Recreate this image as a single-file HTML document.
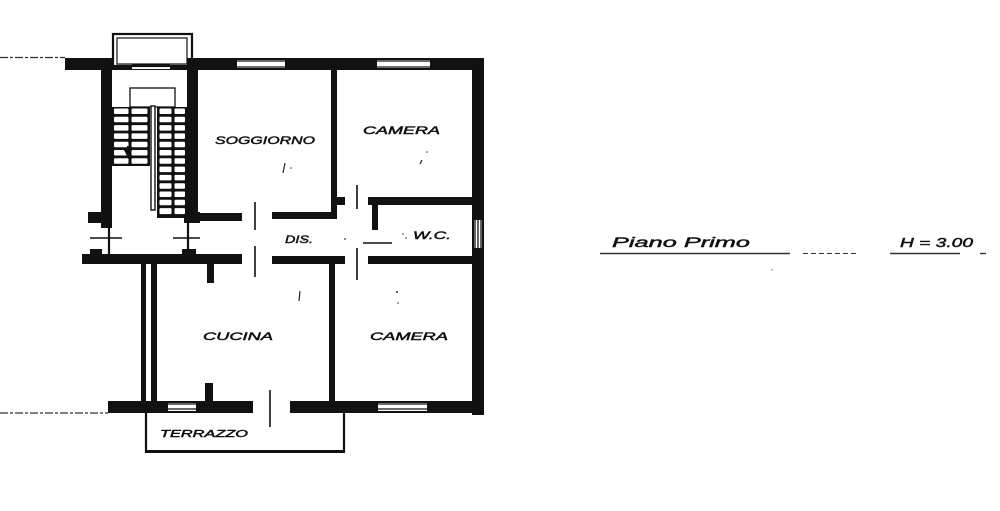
<!DOCTYPE html>
<html><head><meta charset="utf-8"><style>
html,body{margin:0;padding:0;background:#fff;}
svg{display:block;}
text{font-family:"Liberation Sans",sans-serif;font-style:italic;fill:#111;stroke:#111;stroke-width:0.45;}
</style></head><body>
<svg width="1000" height="511" viewBox="0 0 1000 511" xmlns="http://www.w3.org/2000/svg">
<rect width="1000" height="511" fill="#fff"/>
<g fill="#111" stroke="none">
<!-- top walls -->
<rect x="65" y="58" width="47" height="12"/>
<rect x="187" y="58" width="297" height="12"/>
<rect x="112" y="65" width="80" height="5"/>
<!-- right wall -->
<rect x="472" y="58" width="12" height="357"/>
<!-- bottom wall -->
<rect x="108" y="401" width="145" height="12"/>
<rect x="290" y="401" width="194" height="12"/>
<!-- stairwell walls -->
<rect x="101" y="58" width="11" height="170"/>
<rect x="88" y="212" width="24" height="11"/>
<rect x="187" y="58" width="11" height="164"/>
<rect x="187" y="213" width="55" height="8"/>
<rect x="184" y="212" width="16" height="11"/>
<!-- middle wall -->
<rect x="82" y="254" width="160" height="10"/>
<rect x="90" y="249" width="12" height="6"/>
<rect x="182" y="249" width="14" height="6"/>
<rect x="272" y="256" width="73" height="8"/>
<rect x="368" y="256" width="105" height="8"/>
<!-- soggiorno bottom / camera wall -->
<rect x="272" y="212" width="65" height="7"/>
<rect x="331" y="70" width="6" height="148"/>
<rect x="331" y="197" width="14" height="8"/>
<!-- WC -->
<rect x="368" y="197" width="105" height="8"/>
<rect x="372" y="197" width="6" height="33"/>
<!-- cucina -->
<rect x="141" y="264" width="5" height="137"/>
<rect x="151" y="264" width="6" height="137"/>
<rect x="207" y="264" width="7" height="19"/>
<rect x="205" y="383" width="8" height="18"/>
<rect x="329" y="264" width="6" height="137"/>
</g>
<!-- windows -->
<g fill="#fff" stroke="#111" stroke-width="1.3">
<rect x="237" y="60" width="48" height="8" stroke="none"/>
<line x1="237" y1="61" x2="285" y2="61"/><line x1="237" y1="67" x2="285" y2="67"/>
<rect x="377" y="60" width="53" height="8" stroke="none"/>
<line x1="377" y1="61" x2="430" y2="61"/><line x1="377" y1="67" x2="430" y2="67"/>
<rect x="132" y="65" width="38" height="4" stroke="none"/>
<line x1="132" y1="65" x2="170" y2="65"/>
<rect x="168" y="403" width="28" height="8" stroke="none"/>
<line x1="168" y1="404" x2="196" y2="404"/><line x1="168" y1="409" x2="196" y2="409"/>
<rect x="378" y="403" width="49" height="8" stroke="none"/>
<line x1="378" y1="404" x2="427" y2="404"/><line x1="378" y1="409" x2="427" y2="409"/>
<rect x="474" y="220" width="8" height="28" stroke="none"/>
<line x1="475" y1="220" x2="475" y2="248"/><line x1="481" y1="220" x2="481" y2="248"/>
<line x1="478" y1="220" x2="478" y2="248"/>
</g>
<!-- stair top box -->
<rect x="113" y="34" width="79" height="32" fill="none" stroke="#111" stroke-width="2.2"/>
<rect x="117" y="38" width="70" height="26" fill="none" stroke="#111" stroke-width="1.2"/>
<!-- stairs -->
<rect x="130" y="88" width="45" height="19" fill="none" stroke="#111" stroke-width="1.3"/>
<rect x="112" y="107" width="38" height="59" fill="#111"/>
<rect x="157" y="107" width="30" height="111" fill="#111"/>
<g fill="#fff">
<rect x="114" y="108.5" width="14.5" height="5.5" rx="1"/><rect x="131.5" y="108.5" width="16" height="5.5" rx="1"/>
<rect x="114" y="116.8" width="14.5" height="5.5" rx="1"/><rect x="131.5" y="116.8" width="16" height="5.5" rx="1"/>
<rect x="114" y="125.1" width="14.5" height="5.5" rx="1"/><rect x="131.5" y="125.1" width="16" height="5.5" rx="1"/>
<rect x="114" y="133.4" width="14.5" height="5.5" rx="1"/><rect x="131.5" y="133.4" width="16" height="5.5" rx="1"/>
<rect x="114" y="141.7" width="14.5" height="5.5" rx="1"/><rect x="131.5" y="141.7" width="16" height="5.5" rx="1"/>
<rect x="114" y="150" width="14.5" height="5.5" rx="1"/><rect x="131.5" y="150" width="16" height="5.5" rx="1"/>
<rect x="114" y="158.3" width="14.5" height="5.5" rx="1"/><rect x="131.5" y="158.3" width="16" height="5.5" rx="1"/>
</g>
<g fill="#fff">
<rect x="159.5" y="108.5" width="12" height="5.5" rx="1"/><rect x="174.5" y="108.5" width="10.5" height="5.5" rx="1"/>
<rect x="159.5" y="116.8" width="12" height="5.5" rx="1"/><rect x="174.5" y="116.8" width="10.5" height="5.5" rx="1"/>
<rect x="159.5" y="125.1" width="12" height="5.5" rx="1"/><rect x="174.5" y="125.1" width="10.5" height="5.5" rx="1"/>
<rect x="159.5" y="133.4" width="12" height="5.5" rx="1"/><rect x="174.5" y="133.4" width="10.5" height="5.5" rx="1"/>
<rect x="159.5" y="141.7" width="12" height="5.5" rx="1"/><rect x="174.5" y="141.7" width="10.5" height="5.5" rx="1"/>
<rect x="159.5" y="150" width="12" height="5.5" rx="1"/><rect x="174.5" y="150" width="10.5" height="5.5" rx="1"/>
<rect x="159.5" y="158.3" width="12" height="5.5" rx="1"/><rect x="174.5" y="158.3" width="10.5" height="5.5" rx="1"/>
<rect x="159.5" y="166.6" width="12" height="5.5" rx="1"/><rect x="174.5" y="166.6" width="10.5" height="5.5" rx="1"/>
<rect x="159.5" y="174.9" width="12" height="5.5" rx="1"/><rect x="174.5" y="174.9" width="10.5" height="5.5" rx="1"/>
<rect x="159.5" y="183.2" width="12" height="5.5" rx="1"/><rect x="174.5" y="183.2" width="10.5" height="5.5" rx="1"/>
<rect x="159.5" y="191.5" width="12" height="5.5" rx="1"/><rect x="174.5" y="191.5" width="10.5" height="5.5" rx="1"/>
<rect x="159.5" y="199.8" width="12" height="5.5" rx="1"/><rect x="174.5" y="199.8" width="10.5" height="5.5" rx="1"/>
<rect x="159.5" y="208.1" width="12" height="6" rx="1"/><rect x="174.5" y="208.1" width="10.5" height="6" rx="1"/>
</g>
<rect x="151" y="106" width="4" height="104" fill="#fff" stroke="#111" stroke-width="1.4"/>
<path d="M124,150 L132,150 L128,158 Z" fill="#111"/>
<line x1="128" y1="146" x2="128" y2="151" stroke="#111" stroke-width="2"/>
<!-- door swing marks -->
<g stroke="#111" fill="none">
<line x1="90" y1="238" x2="122" y2="238" stroke-width="1.5"/>
<line x1="109" y1="223" x2="109" y2="254" stroke-width="2.2"/>
<line x1="173" y1="238" x2="200" y2="238" stroke-width="1.5"/>
<line x1="188" y1="222" x2="188" y2="254" stroke-width="2.2"/>
<line x1="255" y1="202" x2="255" y2="230" stroke-width="1.6"/>
<line x1="255" y1="246" x2="255" y2="277" stroke-width="1.6"/>
<line x1="357" y1="185" x2="357" y2="209" stroke-width="1.6"/>
<line x1="357" y1="248" x2="357" y2="280" stroke-width="1.6"/>
<line x1="363" y1="243" x2="392" y2="243" stroke-width="1.6"/>
<line x1="270" y1="390" x2="270" y2="427" stroke-width="1.6"/>
</g>
<!-- dashed lines outside -->
<g stroke="#333" stroke-width="1.2" fill="none">
<line x1="0" y1="57.5" x2="65" y2="57.5" stroke-dasharray="8 2 3 2"/>
<line x1="0" y1="413" x2="108" y2="413" stroke-dasharray="8 2 3 2"/>
</g>
<!-- terrazzo -->
<g stroke="#111" fill="none">
<line x1="146" y1="413" x2="146" y2="453" stroke-width="2.2"/>
<line x1="344" y1="413" x2="344" y2="453" stroke-width="2.2"/>
<line x1="145" y1="451.5" x2="345" y2="451.5" stroke-width="3"/>
</g>
<!-- small marks -->
<g stroke="#222" stroke-width="1.2">
<line x1="285" y1="163" x2="283" y2="173"/>
<line x1="300" y1="291" x2="299" y2="301"/>
<line x1="422" y1="160" x2="420" y2="164"/>
</g>
<g fill="#333">
<circle cx="304" cy="240" r="0.9"/><circle cx="345" cy="239" r="0.9"/>
<circle cx="403" cy="234" r="0.8"/><circle cx="406" cy="238" r="0.8"/>
<circle cx="397" cy="292" r="1"/><circle cx="398" cy="303" r="0.8"/>
<circle cx="427" cy="152" r="0.8"/><circle cx="291" cy="168" r="0.8"/>
</g>
<!-- labels -->
<text x="215" y="144" font-size="11" textLength="100" lengthAdjust="spacingAndGlyphs">SOGGIORNO</text>
<text x="363" y="134" font-size="11" textLength="77" lengthAdjust="spacingAndGlyphs">CAMERA</text>
<text x="285" y="243" font-size="11" textLength="28" lengthAdjust="spacingAndGlyphs">DIS.</text>
<text x="413" y="239" font-size="11" textLength="38" lengthAdjust="spacingAndGlyphs">W.C.</text>
<text x="203" y="340" font-size="11" textLength="70" lengthAdjust="spacingAndGlyphs">CUCINA</text>
<text x="370" y="340" font-size="11" textLength="78" lengthAdjust="spacingAndGlyphs">CAMERA</text>
<text x="160" y="437" font-size="10" textLength="88" lengthAdjust="spacingAndGlyphs">TERRAZZO</text>
<text x="612" y="247" font-size="14" textLength="138" lengthAdjust="spacingAndGlyphs">Piano Primo</text>
<text x="900" y="247" font-size="13" textLength="73" lengthAdjust="spacingAndGlyphs">H = 3.00</text>
<g stroke="#333" fill="none">
<line x1="600" y1="253.5" x2="790" y2="253.5" stroke-width="1.4"/>
<line x1="803" y1="253.5" x2="857" y2="253.5" stroke-width="1" stroke-dasharray="5 3"/>
<line x1="890" y1="253.5" x2="960" y2="253.5" stroke-width="1.4"/>
<line x1="980" y1="253.5" x2="986" y2="253.5" stroke-width="1.4"/>
</g>
<circle cx="772" cy="270" r="0.7" fill="#666"/>
</svg>
</body></html>
